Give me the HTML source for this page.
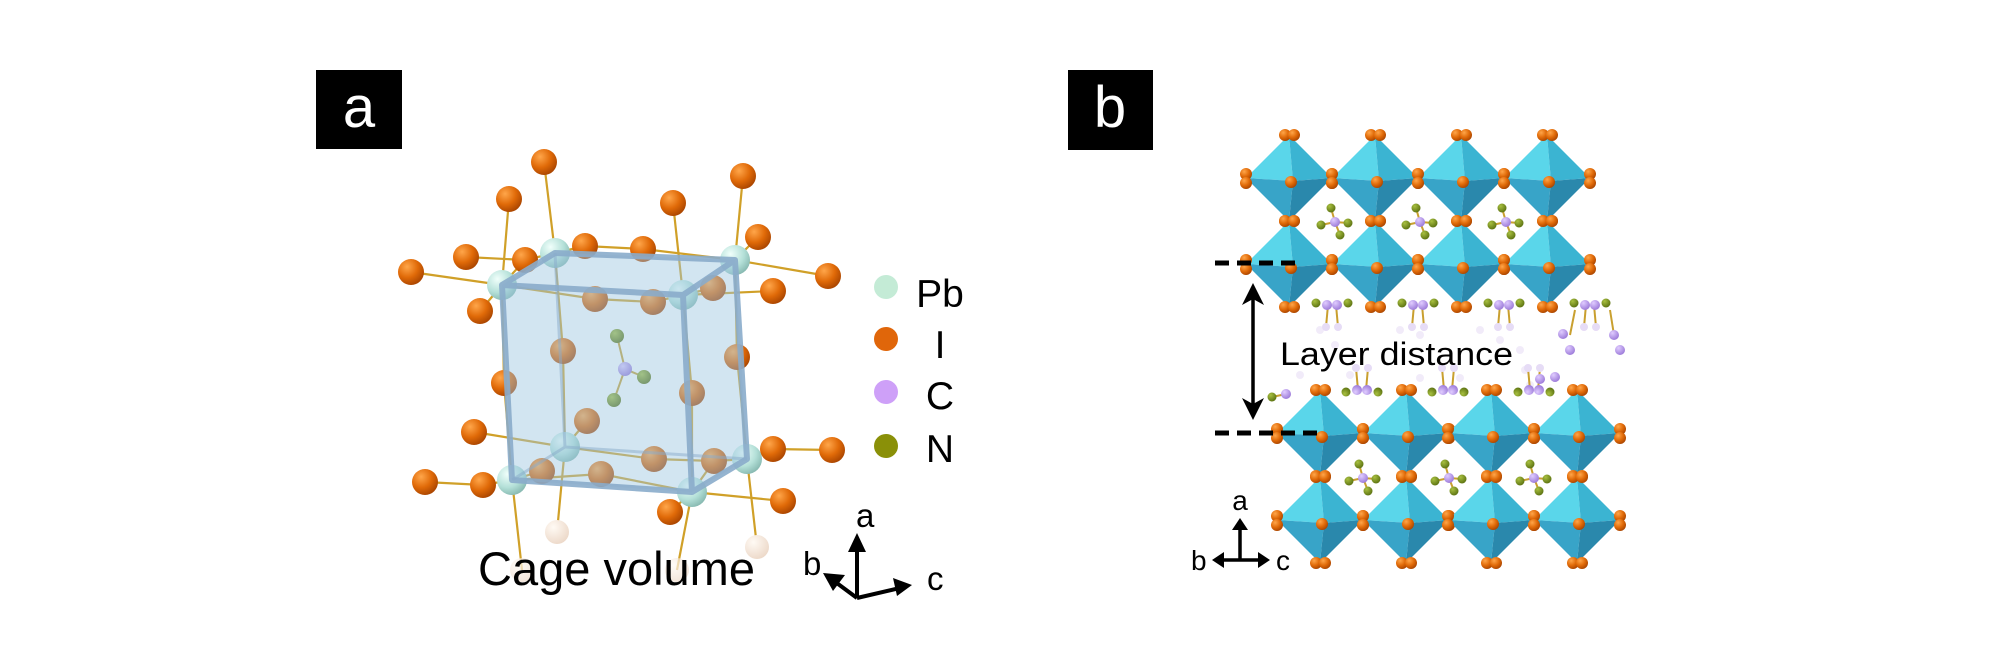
<!DOCTYPE html>
<html><head><meta charset="utf-8"><style>
html,body{margin:0;padding:0;background:#fff;}
svg{display:block;}
text{font-family:"Liberation Sans",Arial,sans-serif;}
</style></head><body>
<svg width="2000" height="663" viewBox="0 0 2000 663" xmlns="http://www.w3.org/2000/svg">
<defs>
<radialGradient id="gI" cx="0.35" cy="0.3" r="0.75"><stop offset="0" stop-color="#ffa64a"/><stop offset="0.55" stop-color="#e06a08"/><stop offset="1" stop-color="#a84400"/></radialGradient>
<radialGradient id="gP" cx="0.35" cy="0.3" r="0.75"><stop offset="0" stop-color="#f0fffb"/><stop offset="0.6" stop-color="#b4e0d8"/><stop offset="1" stop-color="#86b8b0"/></radialGradient>
<radialGradient id="gF" cx="0.35" cy="0.3" r="0.75"><stop offset="0" stop-color="#fffaf4"/><stop offset="1" stop-color="#ecd8c8"/></radialGradient>
<radialGradient id="gN" cx="0.35" cy="0.3" r="0.75"><stop offset="0" stop-color="#a8c040"/><stop offset="1" stop-color="#5a7010"/></radialGradient>
<radialGradient id="gC" cx="0.35" cy="0.3" r="0.75"><stop offset="0" stop-color="#e0ccff"/><stop offset="1" stop-color="#9a78d8"/></radialGradient>
<g id="oct">
<polygon points="0,-43 -43,0 4,3" fill="#5ad6ea"/>
<polygon points="0,-43 43,0 4,3" fill="#3bb4d2"/>
<polygon points="-43,0 0,43 4,3" fill="#38a4c8"/>
<polygon points="43,0 0,43 4,3" fill="#2a88ac"/>
<circle cx="-4" cy="-43" r="6" fill="url(#gI)"/><circle cx="5" cy="-43" r="6" fill="url(#gI)"/>
<circle cx="-4" cy="43" r="6" fill="url(#gI)"/><circle cx="5" cy="43" r="6" fill="url(#gI)"/>
<circle cx="-43" cy="-4" r="6" fill="url(#gI)"/><circle cx="-43" cy="5" r="6" fill="url(#gI)"/>
<circle cx="43" cy="-4" r="6" fill="url(#gI)"/><circle cx="43" cy="5" r="6" fill="url(#gI)"/>
<circle cx="2" cy="4" r="6" fill="url(#gI)"/>
</g>
<g id="mol">
<g stroke="#c9a030" stroke-width="2"><line x1="0" y1="0" x2="-4" y2="-14"/><line x1="0" y1="0" x2="13" y2="1"/><line x1="0" y1="0" x2="-14" y2="3"/><line x1="0" y1="0" x2="5" y2="13"/></g>
<circle cx="0" cy="0" r="5" fill="url(#gC)"/>
<circle cx="-4" cy="-14" r="4.5" fill="url(#gN)"/><circle cx="13" cy="1" r="4.5" fill="url(#gN)"/><circle cx="-14" cy="3" r="4.5" fill="url(#gN)"/><circle cx="5" cy="13" r="4.5" fill="url(#gN)"/>
</g>
<g id="pair">
<g stroke="#c9a030" stroke-width="2"><line x1="-4" y1="0" x2="-6" y2="22"/><line x1="4" y1="0" x2="6" y2="22"/></g>
<circle cx="-16" cy="-2" r="4.5" fill="url(#gN)"/><circle cx="16" cy="-2" r="4.5" fill="url(#gN)"/>
<circle cx="-5" cy="0" r="5" fill="url(#gC)"/><circle cx="5" cy="0" r="5" fill="url(#gC)"/>
<circle cx="-6" cy="22" r="4" fill="#e6dcf6"/><circle cx="6" cy="22" r="4" fill="#e6dcf6"/>
</g>
</defs>
<rect width="2000" height="663" fill="#fff"/>

<!-- Panel a label -->
<rect x="316" y="70" width="86" height="79" fill="#000"/>
<text x="359" y="127" font-size="58" fill="#fff" text-anchor="middle">a</text>
<!-- Panel b label -->
<rect x="1068" y="70" width="85" height="80" fill="#000"/>
<text x="1110" y="127" font-size="58" fill="#fff" text-anchor="middle">b</text>

<!-- Panel a: bonds -->
<g stroke="#d0a028" stroke-width="2.2" fill="none">
<polyline points="411,272 502,285 595,299 653,302 683,295 773,291"/>
<polyline points="466,257 525,260 555,253 585,246 643,249 735,260 828,276"/>
<polyline points="509,199 502,285 504,383 512,480 522,570"/>
<polyline points="544,162 555,253 563,351 565,447 557,532"/>
<polyline points="673,203 683,295 692,393 692,492 677,570"/>
<polyline points="743,176 735,260 737,357 747,459 757,547"/>
<line x1="502" y1="285" x2="480" y2="311"/><line x1="502" y1="285" x2="525" y2="260"/>
<line x1="683" y1="295" x2="713" y2="288"/><line x1="735" y1="260" x2="758" y2="237"/>
<polyline points="425,482 483,485 512,480 601,474 692,492 783,501"/>
<polyline points="474,432 565,447 654,459 714,461 747,459 773,449 832,450"/>
<line x1="512" y1="480" x2="542" y2="471"/><line x1="565" y1="447" x2="587" y2="421"/>
<line x1="692" y1="492" x2="670" y2="512"/><line x1="692" y1="492" x2="714" y2="461"/>
</g>
<!-- atoms -->
<g fill="url(#gI)">
<circle cx="544" cy="162" r="13"/><circle cx="509" cy="199" r="13"/><circle cx="673" cy="203" r="13"/><circle cx="743" cy="176" r="13"/><circle cx="758" cy="237" r="13"/>
<circle cx="466" cy="257" r="13"/><circle cx="411" cy="272" r="13"/><circle cx="525" cy="260" r="13"/><circle cx="585" cy="246" r="13"/><circle cx="643" cy="249" r="13"/>
<circle cx="595" cy="299" r="13"/><circle cx="653" cy="302" r="13"/><circle cx="713" cy="288" r="13"/><circle cx="773" cy="291" r="13"/><circle cx="480" cy="311" r="13"/><circle cx="828" cy="276" r="13"/>
<circle cx="563" cy="351" r="13"/><circle cx="504" cy="383" r="13"/><circle cx="737" cy="357" r="13"/><circle cx="692" cy="393" r="13"/><circle cx="587" cy="421" r="13"/>
<circle cx="474" cy="432" r="13"/><circle cx="425" cy="482" r="13"/><circle cx="483" cy="485" r="13"/><circle cx="542" cy="471" r="13"/><circle cx="601" cy="474" r="13"/>
<circle cx="654" cy="459" r="13"/><circle cx="714" cy="461" r="13"/><circle cx="773" cy="449" r="13"/><circle cx="832" cy="450" r="13"/><circle cx="783" cy="501" r="13"/><circle cx="670" cy="512" r="13"/>
</g>
<g fill="url(#gF)">
<circle cx="557" cy="532" r="12"/><circle cx="757" cy="547" r="12"/><circle cx="522" cy="570" r="12" opacity="0.7"/><circle cx="677" cy="570" r="12" opacity="0.7"/>
</g>
<g fill="url(#gP)">
<circle cx="502" cy="285" r="15"/><circle cx="683" cy="295" r="15"/><circle cx="555" cy="253" r="15"/><circle cx="735" cy="260" r="15"/>
<circle cx="512" cy="480" r="15"/><circle cx="692" cy="492" r="15"/><circle cx="565" cy="447" r="15"/><circle cx="747" cy="459" r="15"/>
</g>
<!-- central molecule -->
<g stroke="#c9a030" stroke-width="2"><line x1="625" y1="369" x2="617" y2="336"/><line x1="625" y1="369" x2="644" y2="377"/><line x1="625" y1="369" x2="614" y2="400"/></g>
<circle cx="625" cy="369" r="7" fill="url(#gC)"/>
<circle cx="617" cy="336" r="7" fill="url(#gN)"/><circle cx="644" cy="377" r="7" fill="url(#gN)"/><circle cx="614" cy="400" r="7" fill="url(#gN)"/>
<!-- cage -->
<polygon points="502,285 555,253 735,260 747,459 692,492 512,480" fill="#9cc6e0" opacity="0.45"/>
<g stroke="#8aaccb" stroke-width="6" fill="none" stroke-linejoin="round" opacity="0.9">
<polygon points="502,285 683,295 692,492 512,480"/>
<polyline points="502,285 555,253 735,260 747,459 692,492"/>
<line x1="683" y1="295" x2="735" y2="260"/>
</g>
<g stroke="#8aaccb" stroke-width="3" fill="none" opacity="0.5">
<polyline points="555,253 565,447 747,459"/><line x1="565" y1="447" x2="512" y2="480"/>
</g>
<text x="478" y="585" font-size="47" fill="#000" textLength="277" lengthAdjust="spacingAndGlyphs">Cage volume</text>

<!-- legend -->
<circle cx="886" cy="287" r="12" fill="#c4ebd6"/>
<circle cx="886" cy="339" r="12" fill="#e0660a"/>
<circle cx="886" cy="392" r="12" fill="#cea0f8"/>
<circle cx="886" cy="446" r="12" fill="#8a9008"/>
<g font-size="39" fill="#000" text-anchor="middle">
<text x="940" y="307">Pb</text><text x="940" y="358">I</text><text x="940" y="409">C</text><text x="940" y="462">N</text>
</g>

<!-- axes a -->
<g stroke="#000" stroke-width="4" fill="none">
<line x1="857" y1="598" x2="857" y2="542"/>
<line x1="857" y1="598" x2="904" y2="587"/>
<line x1="857" y1="598" x2="830" y2="578"/>
</g>
<polygon points="857,533 848,552 866,552" fill="#000"/>
<polygon points="912,585 893,578 897,596" fill="#000"/>
<polygon points="823,573 845,575 833,591" fill="#000"/>
<g font-size="33" fill="#000">
<text x="856" y="527">a</text><text x="803" y="575">b</text><text x="927" y="590">c</text>
</g>

<!-- Panel b molecules interlayer (faint) -->
<g opacity="0.35" fill="#d8c8f0">
<circle cx="1320" cy="330" r="4"/><circle cx="1335" cy="345" r="4"/><circle cx="1400" cy="330" r="4"/><circle cx="1420" cy="335" r="4"/><circle cx="1480" cy="330" r="4"/><circle cx="1500" cy="340" r="4"/><circle cx="1520" cy="350" r="4"/><circle cx="1525" cy="370" r="4"/><circle cx="1300" cy="375" r="4"/><circle cx="1350" cy="375" r="4"/><circle cx="1420" cy="378" r="4"/><circle cx="1460" cy="378" r="4"/><circle cx="1530" cy="385" r="4"/>
</g>
<!-- Panel b: octahedra layers -->
<g>
<use href="#oct" x="1289" y="178"/><use href="#oct" x="1375" y="178"/><use href="#oct" x="1461" y="178"/><use href="#oct" x="1547" y="178"/>
<use href="#oct" x="1289" y="264"/><use href="#oct" x="1375" y="264"/><use href="#oct" x="1461" y="264"/><use href="#oct" x="1547" y="264"/>
<use href="#oct" x="1320" y="433"/><use href="#oct" x="1406" y="433"/><use href="#oct" x="1491" y="433"/><use href="#oct" x="1577" y="433"/>
<use href="#oct" x="1320" y="520"/><use href="#oct" x="1406" y="520"/><use href="#oct" x="1491" y="520"/><use href="#oct" x="1577" y="520"/>
</g>
<use href="#mol" x="1335" y="222"/><use href="#mol" x="1420" y="222"/><use href="#mol" x="1506" y="222"/>
<use href="#mol" x="1363" y="478"/><use href="#mol" x="1449" y="478"/><use href="#mol" x="1534" y="478"/>
<use href="#pair" x="1332" y="305"/><use href="#pair" x="1418" y="305"/><use href="#pair" x="1504" y="305"/><use href="#pair" x="1590" y="305"/>
<g transform="translate(0,700) scale(1,-1)">
<use href="#pair" x="1362" y="310"/><use href="#pair" x="1448" y="310"/><use href="#pair" x="1534" y="310"/>
</g>
<g stroke="#c9a030" stroke-width="2"><line x1="1272" y1="397" x2="1286" y2="394"/><line x1="1575" y1="310" x2="1570" y2="335"/><line x1="1610" y1="310" x2="1614" y2="335"/></g>
<circle cx="1272" cy="397" r="4.5" fill="url(#gN)"/><circle cx="1286" cy="394" r="5" fill="url(#gC)"/>
<circle cx="1563" cy="334" r="5" fill="url(#gC)"/><circle cx="1570" cy="350" r="5" fill="url(#gC)"/><circle cx="1614" cy="335" r="5" fill="url(#gC)"/><circle cx="1620" cy="350" r="5" fill="url(#gC)"/>
<circle cx="1540" cy="379" r="5" fill="url(#gC)"/><circle cx="1555" cy="377" r="5" fill="url(#gC)"/>

<!-- dashed lines -->
<g stroke="#000" stroke-width="5" stroke-dasharray="14,8">
<line x1="1215" y1="263" x2="1298" y2="263"/>
<line x1="1215" y1="433" x2="1322" y2="433"/>
</g>
<!-- double arrow -->
<line x1="1253" y1="298" x2="1253" y2="405" stroke="#000" stroke-width="3.5"/>
<polygon points="1253,283 1242,305 1253,299 1264,305" fill="#000"/>
<polygon points="1253,420 1242,398 1253,404 1264,398" fill="#000"/>
<text x="1280" y="365" font-size="32" fill="#000" textLength="233" lengthAdjust="spacingAndGlyphs">Layer distance</text>

<!-- axes b -->
<g stroke="#000" stroke-width="3.5">
<line x1="1240" y1="560" x2="1240" y2="526"/><line x1="1220" y1="560" x2="1262" y2="560"/>
</g>
<polygon points="1240,518 1232,530 1248,530" fill="#000"/>
<polygon points="1212,560 1224,552 1224,568" fill="#000"/>
<polygon points="1270,560 1258,552 1258,568" fill="#000"/>
<g font-size="28" fill="#000">
<text x="1240" y="510" text-anchor="middle">a</text><text x="1191" y="570">b</text><text x="1276" y="570">c</text>
</g>
</svg>
</body></html>
